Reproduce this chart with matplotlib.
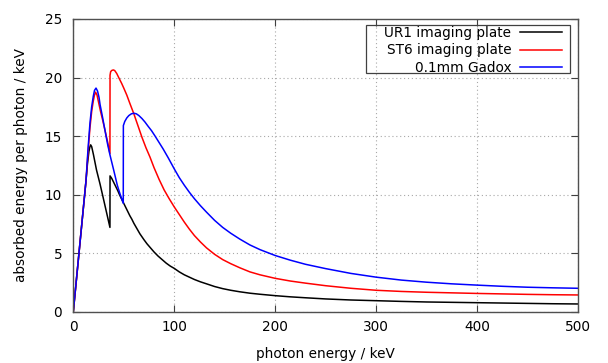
import matplotlib
matplotlib.use("Agg")
import matplotlib.pyplot as plt
from matplotlib.patches import Rectangle

# values (photon energy in keV, absorbed energy in keV)
ur1_e = [0, 12.6, 14, 15.5, 16.5, 17.2, 18.2, 20, 23, 26.5, 29.7, 33, 36.3,
         36.4, 38, 40, 42, 44, 46, 48, 50, 52, 54, 56, 58, 60, 62, 64, 66, 68, 70,
         73, 76, 80, 84, 88, 92, 96, 100, 105, 110, 115, 120, 126, 132, 140, 148,
         156, 165, 175, 185, 200, 215, 230, 250, 275, 300, 325, 350, 375, 400,
         425, 450, 475, 500]
ur1_v = [0, 11.2, 12.6, 13.7, 14.1, 14.25, 14.1, 13.4, 12.1, 10.9, 9.7, 8.45, 7.2,
         11.6, 11.4, 11.05, 10.7, 10.35, 9.95, 9.6, 9.25, 8.9, 8.55, 8.2, 7.9, 7.55,
         7.25, 6.95, 6.65, 6.4, 6.15, 5.8, 5.5, 5.1, 4.75, 4.45, 4.15, 3.9, 3.7, 3.4,
         3.15, 2.95, 2.75, 2.55, 2.38, 2.15, 1.97, 1.83, 1.7, 1.58, 1.49, 1.37, 1.27,
         1.19, 1.09, 1.0, 0.94, 0.88, 0.83, 0.8, 0.77, 0.74, 0.71, 0.68, 0.66]

st6_e = [0, 12.6, 14.5, 16.5, 18.2, 19.8, 21, 22.1, 23.5, 25, 27, 29, 31.4, 34, 36.3,
         36.4, 37, 38, 39.6, 41, 43, 45, 47.9, 50, 53, 56, 60, 64, 68, 72, 76, 80,
         85, 90, 95, 100, 105, 110, 115, 120, 126, 132, 140, 148, 156, 165, 175,
         185, 200, 215, 230, 250, 275, 300, 325, 350, 375, 400, 425, 450, 475, 500]
st6_v = [0, 11.2, 13.5, 15.7, 17.1, 18.0, 18.5, 18.75, 18.5, 17.9, 17.1, 16.4, 15.5,
         14.5, 13.5,
         20.2, 20.5, 20.6, 20.65, 20.6, 20.35, 20.0, 19.5, 19.1, 18.5, 17.8, 16.9,
         15.9, 14.9, 14.0, 13.2, 12.3, 11.3, 10.4, 9.65, 8.95, 8.3, 7.65, 7.05, 6.5,
         5.95, 5.45, 4.9, 4.45, 4.1, 3.75, 3.4, 3.15, 2.85, 2.62, 2.44, 2.22, 2.0,
         1.83, 1.73, 1.66, 1.61, 1.56, 1.52, 1.48, 1.45, 1.43]

gadox_e = [0, 12.6, 14.5, 16.5, 18.2, 19.8, 21, 22.5, 24, 25.5, 26.5, 29, 32, 34,
           36.3, 40, 43.6, 46.5, 49.5,
           49.6, 51, 53, 55, 57.5, 60, 62.5, 65, 68, 71, 74, 77.6, 81, 85, 89, 94,
           100, 105, 110, 115, 120, 126, 132, 140, 148, 156, 165, 175, 185, 200,
           215, 230, 250, 275, 300, 325, 350, 375, 400, 425, 450, 475, 500]
gadox_v = [0, 11.2, 13.8, 16.1, 17.5, 18.4, 18.9, 19.1, 18.85, 18.3, 17.7, 16.6,
           15.2, 14.3, 13.4, 12.1, 10.8, 10.0, 9.26,
           15.9, 16.25, 16.55, 16.75, 16.9, 16.95, 16.9, 16.75, 16.5, 16.2, 15.85,
           15.45, 15.0, 14.45, 13.9, 13.15, 12.2, 11.45, 10.8, 10.2, 9.65, 9.05, 8.5,
           7.8, 7.2, 6.7, 6.2, 5.7, 5.3, 4.8, 4.4, 4.05, 3.68, 3.27, 2.95, 2.7, 2.52,
           2.38, 2.27, 2.17, 2.09, 2.04, 2.0]

labels = ["UR1 imaging plate", "ST6 imaging plate", "0.1mm Gadox"]
xticks = [0, 100, 200, 300, 400, 500]
yticks = [0, 5, 10, 15, 20, 25]

plt.rcParams["font.family"] = "DejaVu Sans"
plt.rcParams["font.size"] = 9.8

W, H = 608, 363
fig = plt.figure(figsize=(W / 100, H / 100), dpi=100)
ax = fig.add_axes([73.3 / W, (H - 311.7) / H, (578 - 73.3) / W, (311.7 - 19) / H])

ax.plot(ur1_e, ur1_v, color="black", lw=1.1, label=labels[0])
ax.plot(st6_e, st6_v, color="red", lw=1.1, label=labels[1])
ax.plot(gadox_e, gadox_v, color="blue", lw=1.1, label=labels[2])

ax.set_xlim(0, 500)
ax.set_ylim(0, 25)
ax.set_xticks(xticks)
ax.set_yticks(yticks)
ax.grid(True, color="#a8a8a8", linestyle=(0, (1, 2.5)), lw=0.8)
ax.tick_params(direction="in", top=True, right=True, length=5, width=0.8,
               color="#404040", labelcolor="black")
ax.tick_params(axis="y", pad=8)
ax.tick_params(axis="x", pad=6)
for s in ax.spines.values():
    s.set_color("#505050")
    s.set_linewidth(1.0)

ax.set_xlabel("photon energy / keV", labelpad=9)
ax.set_ylabel("absorbed energy per photon / keV", labelpad=12)

leg = ax.legend(loc="upper right", bbox_to_anchor=(561.7 / W, (H - 26) / H),
                bbox_transform=fig.transFigure, markerfirst=False, frameon=False,
                borderpad=0, borderaxespad=0, handlelength=3.1, handletextpad=0.6,
                labelspacing=0.25)
fig.patches.append(Rectangle((366 / W, (H - 72.7) / H), 204 / W, 47.7 / H,
                             transform=fig.transFigure, fill=False,
                             edgecolor="#404040", lw=0.9, zorder=5))

fig.savefig("out.png", dpi=100)
